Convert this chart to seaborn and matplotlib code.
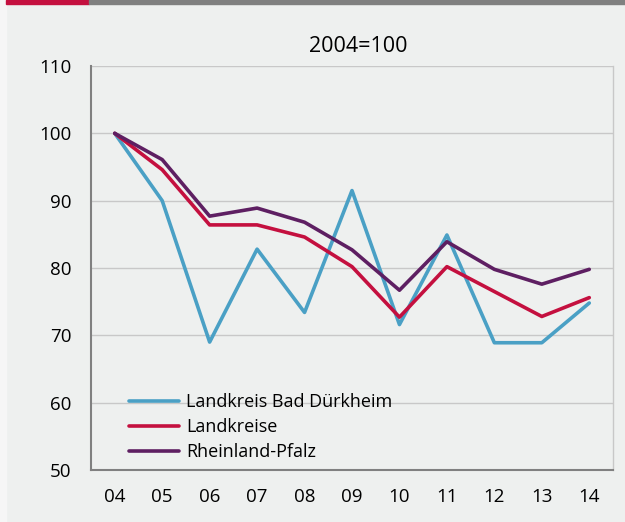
import matplotlib
matplotlib.use("Agg")
import matplotlib.pyplot as plt
import matplotlib.patches as mpatches
import seaborn as sns
import pandas as pd

# Indexwerte, 2004=100
years = ["04", "05", "06", "07", "08", "09", "10", "11", "12", "13", "14"]
bad_duerkheim = [100, 90.0, 69.0, 82.8, 73.4, 91.5, 71.6, 84.9, 68.9, 68.9, 74.8]
landkreise = [100, 94.6, 86.4, 86.4, 84.6, 80.2, 72.7, 80.2, 76.5, 72.8, 75.6]
rheinland_pfalz = [100, 96.1, 87.7, 88.9, 86.8, 82.7, 76.7, 83.9, 79.8, 77.6, 79.8]
series_names = ["Landkreis Bad Dürkheim", "Landkreise", "Rheinland-Pfalz"]
colors = ["#4aa0c5", "#c4103f", "#5e1f62"]

bg = "#eef0ef"
sns.set_style("white")
plt.rcParams["font.family"] = ["Open Sans", "DejaVu Sans"]
plt.rcParams["text.color"] = "black"
plt.rcParams["xtick.labelcolor"] = "black"
plt.rcParams["ytick.labelcolor"] = "black"

rows = []
for name, vals in zip(series_names, [bad_duerkheim, landkreise, rheinland_pfalz]):
    for i, v in enumerate(vals):
        rows.append({"pos": i, "wert": v, "reihe": name})
df = pd.DataFrame(rows)

fig = plt.figure(figsize=(6.25, 5.22), dpi=100, facecolor=bg)
ax = fig.add_axes([91 / 625, 1 - 470 / 522, (613 - 91) / 625, (470 - 66) / 522])
ax.set_facecolor(bg)

sns.lineplot(data=df, x="pos", y="wert", hue="reihe", palette=colors,
             linewidth=2.6, ax=ax, legend=False)

ax.set_xlim(-0.5, 10.5)
ax.set_ylim(50, 110)
ax.set_yticks(range(50, 111, 10))
ax.yaxis.grid(True, color="#c8c8c8", linewidth=1)
ax.set_axisbelow(True)

ax.set_xticks([i - 0.5 for i in range(12)])
ax.set_xticklabels([])
ax.set_xticks(range(11), minor=True)
ax.set_xticklabels(years, minor=True)
ax.tick_params(axis="x", which="major", length=4.5, width=1.2, color="#808080", direction="out")
ax.tick_params(axis="x", which="minor", length=0, pad=13, labelsize=13.5, labelcolor="black")
ax.tick_params(axis="y", length=5, width=1.2, color="#808080", pad=9, labelsize=13.5,
               labelcolor="black")
ax.set_xlabel("")
ax.set_ylabel("")

for s in ["left", "bottom"]:
    ax.spines[s].set_color("#808080")
    ax.spines[s].set_linewidth(1.5)
ax.spines["right"].set_color("#c8c8c8")
ax.spines["right"].set_linewidth(1)
ax.spines["top"].set_visible(False)

handles = [plt.Line2D([], [], color=c, linewidth=2.6) for c in colors]
leg = ax.legend(handles, series_names, loc="upper left",
                bbox_to_anchor=(120 / 625, 1 - 384 / 522), bbox_transform=fig.transFigure,
                frameon=False, fontsize=13, handlelength=2.75, handletextpad=0.4,
                labelspacing=0.4, borderpad=0)
for t in leg.get_texts():
    t.set_color("black")

fig.text(358 / 625, 1 - 46 / 522, "2004=100", ha="center", va="center", fontsize=15.5,
         color="black")

# Kopfbalken
fig.patches.append(mpatches.Rectangle((0, 0), 6 / 625, 1, transform=fig.transFigure,
                                      color="#f6f6f6", zorder=0))
fig.patches.append(mpatches.Rectangle((6 / 625, 1 - 4 / 522), 83 / 625, 4 / 522,
                                      transform=fig.transFigure, color="#c4103f"))
fig.patches.append(mpatches.Rectangle((89 / 625, 1 - 4 / 522), 536 / 625, 4 / 522,
                                      transform=fig.transFigure, color="#808080"))

fig.savefig("out.png", dpi=100, facecolor=bg)
